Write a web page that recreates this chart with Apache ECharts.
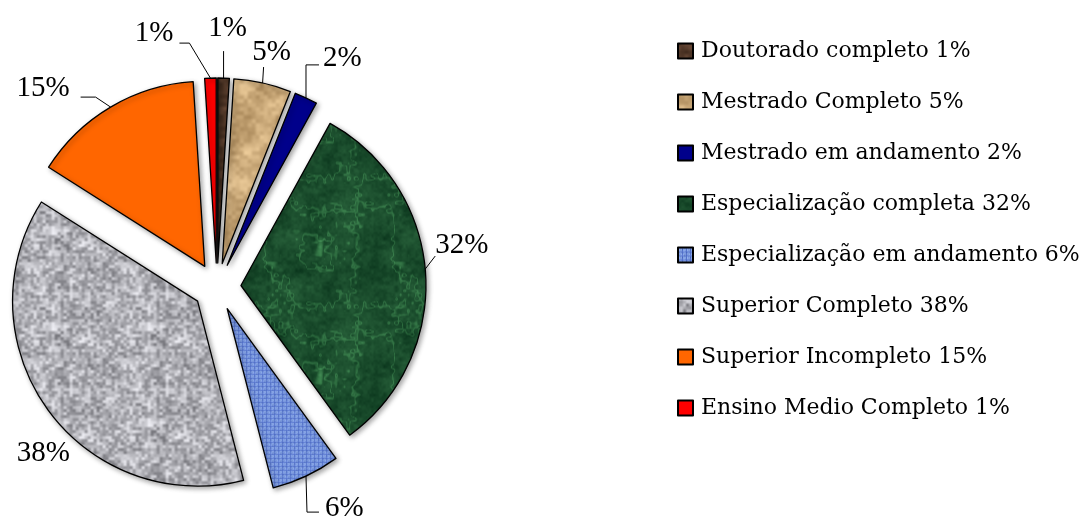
<!DOCTYPE html>
<html>
<head>
<meta charset="utf-8">
<script src="https://cdn.jsdelivr.net/npm/echarts@6/dist/echarts.min.js"></script>
<style>
html,body{margin:0;padding:0;background:#fff;}
#chart{width:1086px;height:519px;}
</style>
</head>
<body>
<div id="chart"></div>
<script>
const categories = [
  "Doutorado completo",
  "Mestrado Completo",
  "Mestrado em andamento",
  "Especialização completa",
  "Especialização em andamento",
  "Superior Completo",
  "Superior Incompleto",
  "Ensino Medio Completo"
];
const values = [1, 5, 2, 32, 6, 38, 15, 1];

// ---- decorative textures (deterministic, not data) ----
function h(x, y, s) {
  const v = Math.sin(x * 12.9898 + y * 78.233 + s * 37.719) * 43758.5453;
  return v - Math.floor(v);
}
function pnoise(x, y, s, cell, size) {
  const per = Math.round(size / cell);
  const gx = Math.floor(x / cell), gy = Math.floor(y / cell);
  const fx = (x % cell) / cell, fy = (y % cell) / cell;
  const x0 = gx % per, x1 = (gx + 1) % per, y0 = gy % per, y1 = (gy + 1) % per;
  const a = h(x0, y0, s), b = h(x1, y0, s), c = h(x0, y1, s), d = h(x1, y1, s);
  const u = fx * fx * (3 - 2 * fx), v = fy * fy * (3 - 2 * fy);
  return a * (1 - u) * (1 - v) + b * u * (1 - v) + c * (1 - u) * v + d * u * v;
}
function makeTexture(size, fn) {
  const cv = document.createElement('canvas');
  cv.width = size; cv.height = size;
  const ctx = cv.getContext('2d');
  const img = ctx.createImageData(size, size);
  for (let y = 0; y < size; y++) {
    for (let x = 0; x < size; x++) {
      const c = fn(x, y, size);
      const i = (y * size + x) * 4;
      img.data[i] = c[0]; img.data[i + 1] = c[1]; img.data[i + 2] = c[2]; img.data[i + 3] = 255;
    }
  }
  ctx.putImageData(img, 0, 0);
  return { image: cv, repeat: 'repeat' };
}
function clamp(v) { return Math.max(0, Math.min(255, Math.round(v))); }

const texBrown = makeTexture(32, (x, y, S) => {
  const n = pnoise(x, y, 1, 4, S) - 0.5;
  return [clamp(84 + n * 40), clamp(58 + n * 30), clamp(42 + n * 25)];
});
const texTan = makeTexture(96, (x, y, S) => {
  const n = pnoise(x, y, 2, 16, S) * 0.55 + pnoise(x, y, 3, 4, S) * 0.45 - 0.5;
  return [clamp(203 + n * 80), clamp(170 + n * 80), clamp(122 + n * 75)];
});
const texGreen = makeTexture(128, (x, y, S) => {
  const n = pnoise(x, y, 4, 16, S) * 0.45 + pnoise(x, y, 5, 4, S) * 0.35 + pnoise(x, y, 12, 2, S) * 0.2 - 0.5;
  const w1 = pnoise(x, y, 6, 64, S) * 0.7 + pnoise(x, y, 11, 8, S) * 0.3;
  const w2 = pnoise(x, y, 13, 32, S) * 0.75 + pnoise(x, y, 14, 4, S) * 0.25;
  const vein = Math.max(0, 1 - Math.abs(w1 - 0.5) * 18) * 0.9 + Math.max(0, 1 - Math.abs(w2 - 0.5) * 24) * 0.6;
  return [clamp(26 + n * 36 + vein * 40), clamp(76 + n * 52 + vein * 66), clamp(44 + n * 36 + vein * 40)];
});
const texBlue = makeTexture(8, (x, y) => {
  const line = (x % 4 === 0 || y % 4 === 0) ? -45 : 0;
  const n = (h(x, y, 7) - 0.5) * 30;
  return [clamp(130 + line + n), clamp(160 + line + n), clamp(225 + line * 0.5 + n)];
});
const texGray = makeTexture(96, (x, y, S) => {
  const n = pnoise(x, y, 8, 3, S) * 0.7 + pnoise(x, y, 9, 12, S) * 0.3 - 0.5;
  const g = 178 + n * 135;
  return [clamp(g), clamp(g), clamp(g + 6)];
});

const fills = [texBrown, texTan, '#00008b', texGreen, texBlue, texGray, '#ff6600', '#ff0000'];

const RADIUS = 185;

// label-line shapes per slice, relative to the arc point ECharts computes (styling only):
const guide = [
  { seg1: [0, -27], seg2: [0, 0], lab: [4, -8], align: 'center', va: 'bottom' },
  { seg1: [1, -16], seg2: [0, 0], lab: [8, 0], align: 'center', va: 'bottom' },
  { seg1: [0, -33], seg2: [13, 0], lab: [4, -7], align: 'left', va: 'middle' },
  { rot: -1.5, seg1: [10, -13], seg2: [0, 0], lab: [0, -11], align: 'left', va: 'middle' },
  { seg1: [1, 36], seg2: [12, 0], lab: [6, -4], align: 'left', va: 'middle' },
  null,
  { seg1: [-15, -10], seg2: [-15, 0], lab: [-11, -9], align: 'right', va: 'middle' },
  { seg1: [-21, -35], seg2: [-10, 0], lab: [-6, -10], align: 'right', va: 'middle' }
];
const firstSeen = {};

const chart = echarts.init(document.getElementById('chart'), null, { renderer: 'canvas' });
const data = categories.map((name, i) => ({
  name: name,
  value: values[i],
  selected: true,
  itemStyle: { color: fills[i] },
  labelLine: i === 5 ? { show: false, length: 0, length2: 0 } : { show: true, length: 10, length2: 4 }
}));

chart.setOption({
  backgroundColor: '#ffffff',
  animation: false,
  legend: {
    orient: 'vertical',
    left: 672,
    top: 34,
    itemWidth: 15,
    itemHeight: 15,
    itemGap: 27,
    selectedMode: false,
    icon: 'rect',
    textStyle: { fontFamily: 'DejaVu Serif', fontSize: 22, color: '#000', lineHeight: 24, padding: [0, 0, 0, 3] },
    formatter: function (name) {
      const i = categories.indexOf(name);
      return name + ' ' + values[i] + '%';
    },
    data: categories
  },
  series: [{
    type: 'pie',
    center: [217, 287],
    radius: RADIUS,
    startAngle: 90,
    clockwise: true,
    selectedMode: 'multiple',
    selectedOffset: 24,
    avoidLabelOverlap: false,
    emphasis: { disabled: true },
    itemStyle: {
      borderColor: '#000',
      borderWidth: 1.3,
      shadowBlur: 5,
      shadowColor: 'rgba(0,0,0,0.35)',
      shadowOffsetX: 2,
      shadowOffsetY: 2
    },
    label: {
      show: true,
      position: 'outside',
      formatter: function (p) { return p.value + '%'; },
      fontFamily: 'Liberation Serif',
      fontSize: 29,
      color: '#000'
    },
    labelLine: {
      show: true,
      lineStyle: { color: '#000', width: 1 }
    },
    labelLayout: function (p) {
      const i = p.dataIndex;
      const g = guide[i];
      if (!g) return { dx: 27, dy: 44 };
      if (!firstSeen[i]) {
        if (!p.labelLinePoints || p.labelLinePoints.length < 2) return {};
        firstSeen[i] = {
          pts: p.labelLinePoints.map(q => [q[0], q[1]]),
          rect: { x: p.labelRect.x, y: p.labelRect.y, width: p.labelRect.width, height: p.labelRect.height }
        };
      }
      const pts = firstSeen[i].pts, r0 = firstSeen[i].rect;
      let p0 = [pts[0][0], pts[0][1]];
      if (g.rot) {
        const dx = pts[1][0] - pts[0][0], dy = pts[1][1] - pts[0][1];
        const L = Math.sqrt(dx * dx + dy * dy) || 1;
        const ux = dx / L, uy = dy / L;
        const cx = p0[0] - ux * RADIUS, cy = p0[1] - uy * RADIUS;
        const ang = Math.atan2(uy, ux) + g.rot * Math.PI / 180;
        p0 = [cx + RADIUS * Math.cos(ang), cy + RADIUS * Math.sin(ang)];
      }
      const p1 = [p0[0] + g.seg1[0], p0[1] + g.seg1[1]];
      const p2 = [p1[0] + g.seg2[0], p1[1] + g.seg2[1]];
      const ax = p2[0] + g.lab[0], ay = p2[1] + g.lab[1];
      const w = r0.width, hh = r0.height;
      const left = g.align === 'left' ? ax : g.align === 'right' ? ax - w : ax - w / 2;
      const top = g.va === 'top' ? ay : g.va === 'bottom' ? ay - hh : ay - hh / 2;
      return {
        dx: left - r0.x,
        dy: top - r0.y,
        labelLinePoints: [p0, p1, p2]
      };
    },
    data: data
  }]
});
</script>
</body>
</html>
